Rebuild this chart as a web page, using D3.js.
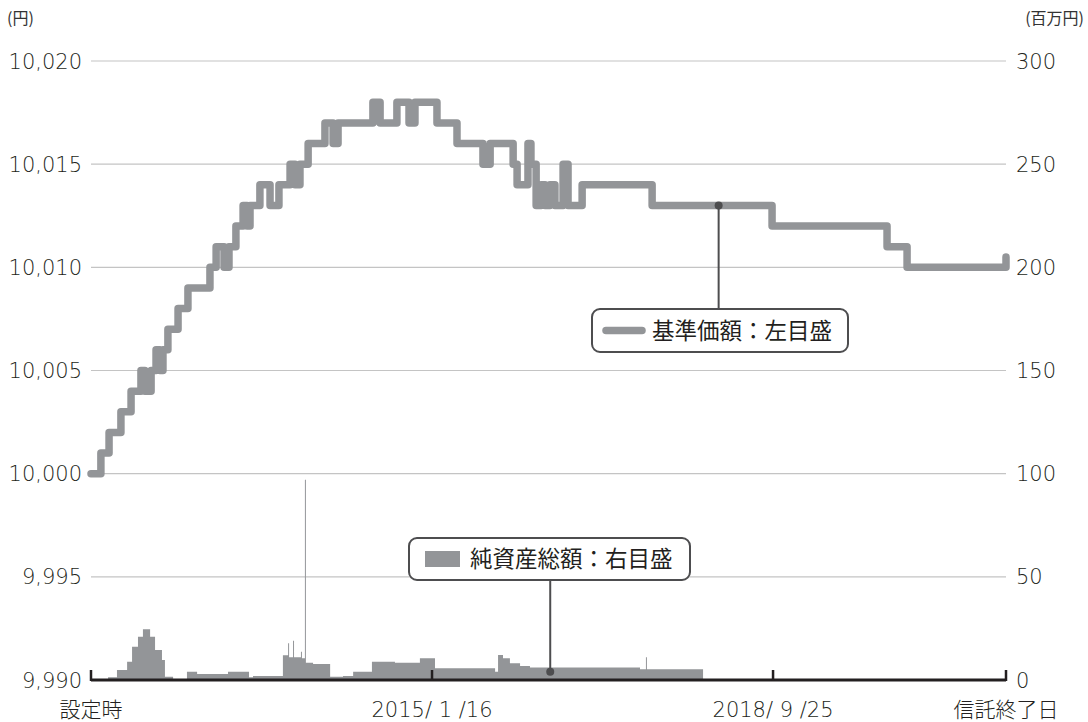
<!DOCTYPE html>
<html>
<head>
<meta charset="utf-8">
<script src="https://cdn.jsdelivr.net/npm/d3@7"></script>
<style>
  body { margin: 0; background: #fff; }
  svg { display: block; font-family: "Noto Sans CJK JP", "Noto Sans", sans-serif; }
  .num { font-family: "DejaVu Sans", "Noto Sans CJK JP", sans-serif; font-weight: 200; }
</style>
</head>
<body>
<svg id="chart" width="1088" height="722"></svg>
<script>
// 基準価額 (円) — step points: days since 設定時, value
const navDays = [0, 40, 73, 121, 162, 202, 218, 243, 263, 279, 291, 311, 352, 392, 481, 506, 538, 558, 586,
    615, 631, 643, 683, 724, 760, 805, 825, 845, 878, 946, 979, 999, 1140, 1169, 1237, 1286, 1310, 1399,
    1480, 1585, 1614, 1707, 1723, 1767, 1779, 1800, 1820, 1836, 1856, 1876, 1909, 1929, 1986, 2269, 2754,
    3219, 3300, 3700];
const navValues = [10000, 10001, 10002, 10003, 10004, 10005, 10004, 10005, 10006, 10005, 10006, 10007, 10008,
    10009, 10010, 10011, 10010, 10011, 10012, 10013, 10012, 10013, 10014, 10013, 10014, 10015, 10014, 10015,
    10016, 10017, 10016, 10017, 10018, 10017, 10018, 10017, 10018, 10017, 10016, 10015, 10016, 10015, 10014,
    10016, 10015, 10013, 10014, 10013, 10014, 10013, 10015, 10013, 10014, 10013, 10012, 10011, 10010, 10010.5];

// 純資産総額 (百万円)
const assetDays = [0, 69, 105, 146, 166, 190, 210, 239, 259, 287, 299, 332, 388, 429, 554, 639, 655, 776,
    797, 801, 817, 821, 849, 853, 865, 869, 898, 967, 1019, 1060, 1136, 1229, 1330, 1391, 1634, 1646, 1666,
    1694, 1735, 1775, 2220, 2244, 2248, 2475];
const assetValues = [0.3, 1.3, 4.8, 8.9, 16.1, 21, 24.6, 21, 14.5, 9.7, 1.6, 0.3, 4, 2.9, 4, 1.3, 1.9, 12,
    17.8, 11, 19, 11, 13.7, 10.5, 97, 8.4, 7.8, 1.6, 1.9, 4, 8.9, 8.4, 10.5, 5.7, 4, 12.1, 10.5,
    8.1, 6.8, 6.0, 5.2, 11, 5.2, 0];

const leftTicks = [9990, 9995, 10000, 10005, 10010, 10015, 10020];
const rightTicks = [0, 50, 100, 150, 200, 250, 300];
const dateTicks = [0, 1379, 2758, 3700];
const dateLabels = ["設定時", "2015/ 1 /16", "2018/ 9 /25", "信託終了日"];

const navData = navDays.map((d, i) => ({ day: d, v: navValues[i] }));
const assetData = assetDays.map((d, i) => ({ day: d, v: assetValues[i] }));

const svg = d3.select("#chart"),
    margin = { top: 61, right: 82, bottom: 42, left: 91 },
    width = +svg.attr("width") - margin.left - margin.right,
    height = +svg.attr("height") - margin.top - margin.bottom,
    chart = svg.append("g").attr("transform", `translate(${margin.left},${margin.top})`);

const grey = "#939598", ink = "#231f20";

const x = d3.scaleLinear().domain([0, 3700]).range([0, width]);
const yL = d3.scaleLinear().domain([9990, 10020]).range([height, 0]);
const yR = d3.scaleLinear().domain([0, 300]).range([height, 0]);

// grid
chart.append("g")
    .selectAll("line")
    .data(leftTicks.filter(t => t !== 9990))
    .join("line")
    .attr("x1", 0).attr("x2", width)
    .attr("y1", d => yL(d)).attr("y2", d => yL(d))
    .attr("stroke", "#c4c4c4").attr("stroke-width", 1.2);

// left axis labels
chart.append("g")
    .selectAll("text")
    .data(leftTicks)
    .join("text")
    .attr("class", "num")
    .attr("x", -9).attr("y", d => yL(d))
    .attr("dy", "0.36em")
    .attr("text-anchor", "end")
    .attr("fill", ink)
    .style("font-size", "21px")
    .text(d => d3.format(",")(d));

// right axis labels
chart.append("g")
    .selectAll("text")
    .data(rightTicks)
    .join("text")
    .attr("class", "num")
    .attr("x", width + 10).attr("y", d => yR(d))
    .attr("dy", "0.36em")
    .attr("fill", ink)
    .style("font-size", "21px")
    .text(d => d);

svg.append("text").attr("x", 7).attr("y", 24).attr("fill", "#333")
    .style("font-size", "16px").text("(円)");
svg.append("text").attr("x", 1084).attr("y", 24).attr("fill", "#333")
    .attr("text-anchor", "end").style("font-size", "16px").text("(百万円)");

// net assets area
chart.append("path")
    .datum(assetData)
    .attr("fill", grey)
    .attr("d", d3.area().curve(d3.curveStepAfter)
        .x(d => x(d.day)).y0(yR(0)).y1(d => yR(d.v)));

// NAV line
chart.append("path")
    .datum(navData)
    .attr("fill", "none")
    .attr("stroke", grey)
    .attr("stroke-width", 7.5)
    .attr("stroke-linejoin", "round")
    .attr("stroke-linecap", "round")
    .attr("d", d3.line().curve(d3.curveStepAfter).x(d => x(d.day)).y(d => yL(d.v)));

// x axis
chart.append("line")
    .attr("x1", 0).attr("x2", width)
    .attr("y1", height).attr("y2", height)
    .attr("stroke", ink).attr("stroke-width", 3);
chart.append("g")
    .selectAll("line")
    .data(dateTicks)
    .join("line")
    .attr("x1", d => x(d)).attr("x2", d => x(d))
    .attr("y1", height + 1).attr("y2", height - 10)
    .attr("stroke", ink).attr("stroke-width", 2.5);
chart.append("g")
    .selectAll("text")
    .data(dateTicks)
    .join("text")
    .attr("class", "num")
    .attr("x", d => x(d)).attr("y", height + 37)
    .attr("text-anchor", "middle")
    .attr("fill", ink)
    .style("font-size", "21px")
    .text((d, i) => dateLabels[i]);

// legend callouts
function callout(bx, by, bw, bh, px, py, label, swatch) {
    const g = svg.append("g");
    g.append("line")
        .attr("x1", px).attr("x2", px)
        .attr("y1", py).attr("y2", py < by ? by : by + bh)
        .attr("stroke", "#4d4d4f").attr("stroke-width", 2);
    g.append("circle").attr("cx", px).attr("cy", py).attr("r", 4).attr("fill", "#4d4d4f");
    g.append("rect")
        .attr("x", bx).attr("y", by).attr("width", bw).attr("height", bh)
        .attr("rx", 8)
        .attr("fill", "#fff").attr("stroke", "#4d4d4f").attr("stroke-width", 2);
    if (swatch === "line") {
        g.append("line")
            .attr("x1", bx + 14).attr("x2", bx + 50)
            .attr("y1", by + bh / 2).attr("y2", by + bh / 2)
            .attr("stroke", grey).attr("stroke-width", 7.5).attr("stroke-linecap", "round");
    } else {
        g.append("rect")
            .attr("x", bx + 16).attr("y", by + bh / 2 - 8)
            .attr("width", 35).attr("height", 16).attr("fill", grey);
    }
    g.append("text")
        .attr("x", bx + (swatch === "line" ? 60 : 61)).attr("y", by + bh / 2)
        .attr("dy", "0.36em")
        .attr("fill", ink)
        .style("font-size", "22.5px")
        .text(label);
}

callout(592, 309, 256, 43, margin.left + x(2538), margin.top + yL(10013), "基準価額：左目盛", "line");
callout(409, 538, 281, 42, margin.left + x(1857), margin.top + yR(4), "純資産総額：右目盛", "rect");
</script>
</body>
</html>
